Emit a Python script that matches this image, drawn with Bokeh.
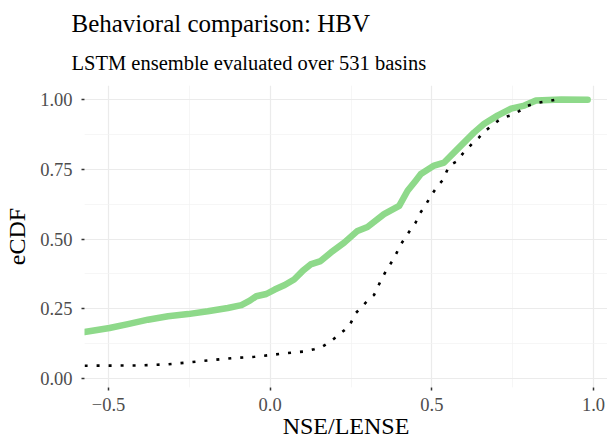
from bokeh.plotting import figure
from bokeh.models import FixedTicker, Title, Range1d
from bokeh.embed import file_html
from bokeh.resources import INLINE

# LSTM ensemble eCDF (green)
lstm_x = [-0.574, -0.497, -0.44, -0.378, -0.316, -0.254, -0.193, -0.131, -0.089, -0.063,
          -0.043, -0.012, 0.014, 0.045, 0.074, 0.10, 0.125, 0.156, 0.187, 0.229, 0.27,
          0.301, 0.352, 0.399, 0.425, 0.45, 0.466, 0.507, 0.538, 0.58, 0.631, 0.662,
          0.703, 0.745, 0.786, 0.822, 0.9, 0.982]
lstm_y = [0.167, 0.181, 0.195, 0.211, 0.223, 0.231, 0.241, 0.253, 0.263, 0.279,
          0.295, 0.303, 0.319, 0.335, 0.355, 0.385, 0.409, 0.421, 0.451, 0.487, 0.529,
          0.543, 0.589, 0.619, 0.673, 0.709, 0.733, 0.763, 0.774, 0.823, 0.882, 0.913,
          0.942, 0.967, 0.978, 0.996, 1.0, 0.999]

# HBV eCDF (black dotted)
hbv_x = [-0.574, -0.40, -0.317, -0.244, -0.182, -0.12, -0.048, 0.014, 0.076, 0.107, 0.136,
         0.162, 0.187, 0.223, 0.244, 0.265, 0.301, 0.321, 0.332, 0.342, 0.358, 0.383, 0.404,
         0.435, 0.45, 0.461, 0.476, 0.502, 0.518, 0.533, 0.554, 0.577, 0.595, 0.61, 0.626,
         0.646, 0.662, 0.683, 0.703, 0.724, 0.75, 0.77, 0.791, 0.822, 0.853, 0.882]
hbv_y = [0.046, 0.047, 0.051, 0.059, 0.066, 0.073, 0.078, 0.086, 0.094, 0.097, 0.105,
         0.115, 0.133, 0.167, 0.187, 0.235, 0.279, 0.299, 0.325, 0.351, 0.385, 0.431, 0.481,
         0.535, 0.559, 0.589, 0.613, 0.663, 0.691, 0.71, 0.763, 0.778, 0.805, 0.823, 0.844,
         0.864, 0.885, 0.903, 0.922, 0.936, 0.945, 0.958, 0.975, 0.987, 0.993, 0.999]

x_ticks = [-0.5, 0.0, 0.5, 1.0]
x_labels = ["\u22120.5", "0.0", "0.5", "1.0"]
x_minor = [-0.25, 0.25, 0.75]
y_ticks = [0.0, 0.25, 0.5, 0.75, 1.0]
y_labels = ["0.00", "0.25", "0.50", "0.75", "1.00"]
y_minor = [0.125, 0.375, 0.625, 0.875]

FONT = "Liberation Serif"

p = figure(width=607, height=441, output_backend="svg", toolbar_location=None,
           x_range=Range1d(-0.5743, 1.0433), y_range=Range1d(-0.032, 1.05),
           min_border_left=84, min_border_right=0, min_border_top=85, min_border_bottom=50)
p.outline_line_color = None
p.background_fill_color = "white"
p.border_fill_color = "white"

p.add_layout(Title(text="LSTM ensemble evaluated over 531 basins", text_font=FONT,
                   text_font_size="20.5px", text_font_style="normal", align="left",
                   text_color="black", standoff=23, offset=-13), "above")
p.add_layout(Title(text="Behavioral comparison: HBV", text_font=FONT,
                   text_font_size="25px", text_font_style="normal", align="left",
                   text_color="black", standoff=3, offset=-13), "above")

p.line(lstm_x, lstm_y, line_color="#8ED98A", line_width=6.5, line_join="round", line_cap="round")
p.line(hbv_x, hbv_y, line_color="black", line_width=2.6, line_dash="3 9")

p.xaxis.ticker = FixedTicker(ticks=x_ticks, minor_ticks=x_minor)
p.yaxis.ticker = FixedTicker(ticks=y_ticks, minor_ticks=y_minor)
p.xaxis.major_label_overrides = dict(zip(x_ticks, x_labels))
p.yaxis.major_label_overrides = dict(zip(y_ticks, y_labels))

for ax in (p.xaxis, p.yaxis):
    ax.axis_line_color = None
    ax.major_tick_line_color = "#333333"
    ax.major_tick_line_width = 1.5
    ax.major_tick_in = 0
    ax.major_tick_out = 3
    ax.minor_tick_line_color = None
    ax.major_label_text_font = FONT
    ax.major_label_text_font_size = "18.5px"
    ax.major_label_text_color = "#4D4D4D"
    ax.axis_label_text_font = FONT
    ax.axis_label_text_font_size = "24px"
    ax.axis_label_text_font_style = "normal"
    ax.axis_label_text_color = "black"

p.xaxis.axis_label = "NSE/LENSE"
p.yaxis.axis_label = "eCDF"
p.xaxis.major_label_standoff = 6
p.yaxis.major_label_standoff = 8
p.xaxis.axis_label_standoff = -1
p.yaxis.axis_label_standoff = 7

p.xgrid.grid_line_color = "#EBEBEB"
p.ygrid.grid_line_color = "#EBEBEB"
p.xgrid.grid_line_width = 1.2
p.ygrid.grid_line_width = 1.2
p.xgrid.minor_grid_line_color = "#F2F2F2"
p.ygrid.minor_grid_line_color = "#F2F2F2"
p.xgrid.minor_grid_line_width = 0.7
p.ygrid.minor_grid_line_width = 0.7

open("out.html", "w").write(file_html(p, INLINE))
